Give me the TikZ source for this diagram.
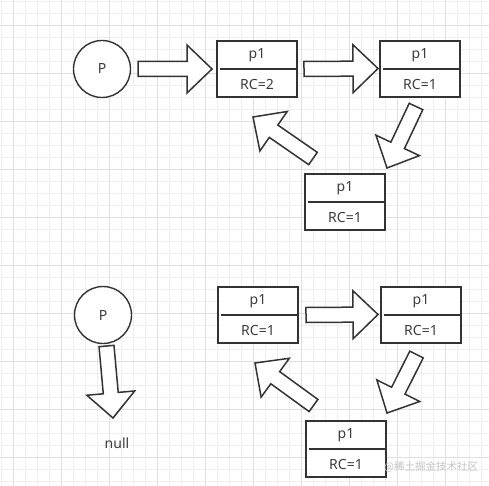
\documentclass[tikz,border=0pt]{standalone}
\usepackage{fontspec}
\setmainfont{Noto Sans}
\newfontfamily\cjk{Noto Sans CJK SC}
\usetikzlibrary{calc}
\definecolor{gridminor}{HTML}{EEEEEE}
\definecolor{gridmajor}{HTML}{E0E0E0}
\definecolor{ink}{HTML}{333333}
\definecolor{txt}{HTML}{3C3C3C}
\definecolor{wm}{HTML}{C4C4C4}
\tikzset{
  refbox/.style={draw=ink, line width=2pt, fill=white, minimum width=80pt, minimum height=56pt, inner sep=0pt, outer sep=0pt},
  ptr/.style={draw=ink, line width=1.4pt, fill=white, circle, minimum size=57pt, inner sep=0pt, font=\fontsize{14}{16}\selectfont, text=txt},
  lbl/.style={font=\fontsize{14}{16}\selectfont, text=txt, inner sep=0pt},
  blk/.style={draw=ink, line width=1.5pt, fill=white, line join=miter},
}
\newcommand{\blockarrow}[2]{%
  \path[blk] ($(#1)!7.5pt!90:(#2)$) -- ($($(#2)!25pt!(#1)$)!7.5pt!-90:(#1)$)
    -- ($($(#2)!25pt!(#1)$)!24pt!-90:(#1)$) -- (#2)
    -- ($($(#2)!25pt!(#1)$)!24pt!90:(#1)$) -- ($($(#2)!25pt!(#1)$)!7.5pt!90:(#1)$)
    -- ($(#1)!7.5pt!-90:(#2)$) -- cycle;}
\newcommand{\rcbox}[4]{%
  \node[refbox] (#1) at (#2) {};
  \draw[ink, line width=1.6pt] ($(#1.west)+(3,0)$) -- (#1.east);
  \node[lbl] (#1p) at ($(#1.north)!0.25!(#1.south)$) {#3};
  \node[lbl] (#1r) at ($(#1.north)!0.78!(#1.south)$) {#4};}
\begin{document}
\begin{tikzpicture}[x=1pt, y=-1pt]
\useasboundingbox (0,0) rectangle (489,486);
\fill[white] (0,0) rectangle (489,486);
% grid
\foreach \k in {0,...,40} {
  \draw[gridminor, line width=0.8pt] ({1+12*\k},0) -- ({1+12*\k},486);
  \draw[gridminor, line width=0.8pt] (0,{1+12*\k}) -- (489,{1+12*\k});
}
\foreach \k in {0,...,10} {
  \draw[gridmajor, line width=0.9pt] ({13+48*\k},0) -- ({13+48*\k},486);
  \draw[gridmajor, line width=0.9pt] (0,{25+48*\k}) -- (489,{25+48*\k});
}
% ---------- top scene ----------
\node[ptr] (P1) at (102,69) {P};
\rcbox{A1}{257,69}{p1}{RC=2}
\rcbox{A2}{420,69}{p1}{RC=1}
\rcbox{A3}{345,202}{p1}{RC=1}
\coordinate (t1) at (138,69);   \coordinate (h1) at (212,69);
\coordinate (t2) at (304,69);   \coordinate (h2) at (378,68.5);
\coordinate (t3) at (416,106.5);\coordinate (h3) at (387,168);
\coordinate (t4) at (313,158.5);\coordinate (h4) at (253,117);
\blockarrow{t1}{h1}
\blockarrow{t2}{h2}
\blockarrow{t3}{h3}
\blockarrow{t4}{h4}
% ---------- bottom scene ----------
\node[ptr] (P2) at (103,315) {P};
\rcbox{B1}{258,315}{p1}{RC=1}
\rcbox{B2}{421,315}{p1}{RC=1}
\rcbox{B3}{346,449}{p1}{RC=1}
\node[lbl] (null) at (117,443) {null};
\coordinate (t5) at (106.5,346);\coordinate (h5) at (113,418);
\coordinate (t6) at (306,315);  \coordinate (h6) at (378,314.5);
\coordinate (t7) at (416.5,354.5);\coordinate (h7) at (387,413);
\coordinate (t8) at (313.5,405.5);\coordinate (h8) at (255,363);
\blockarrow{t5}{h5}
\blockarrow{t6}{h6}
\blockarrow{t7}{h7}
\blockarrow{t8}{h8}
% watermark
\node[text=wm, inner sep=0pt, anchor=west, font=\cjk\fontsize{10.5}{12}\selectfont] (wmark) at (384,467) {@稀土掘金技术社区};
\end{tikzpicture}
\end{document}
